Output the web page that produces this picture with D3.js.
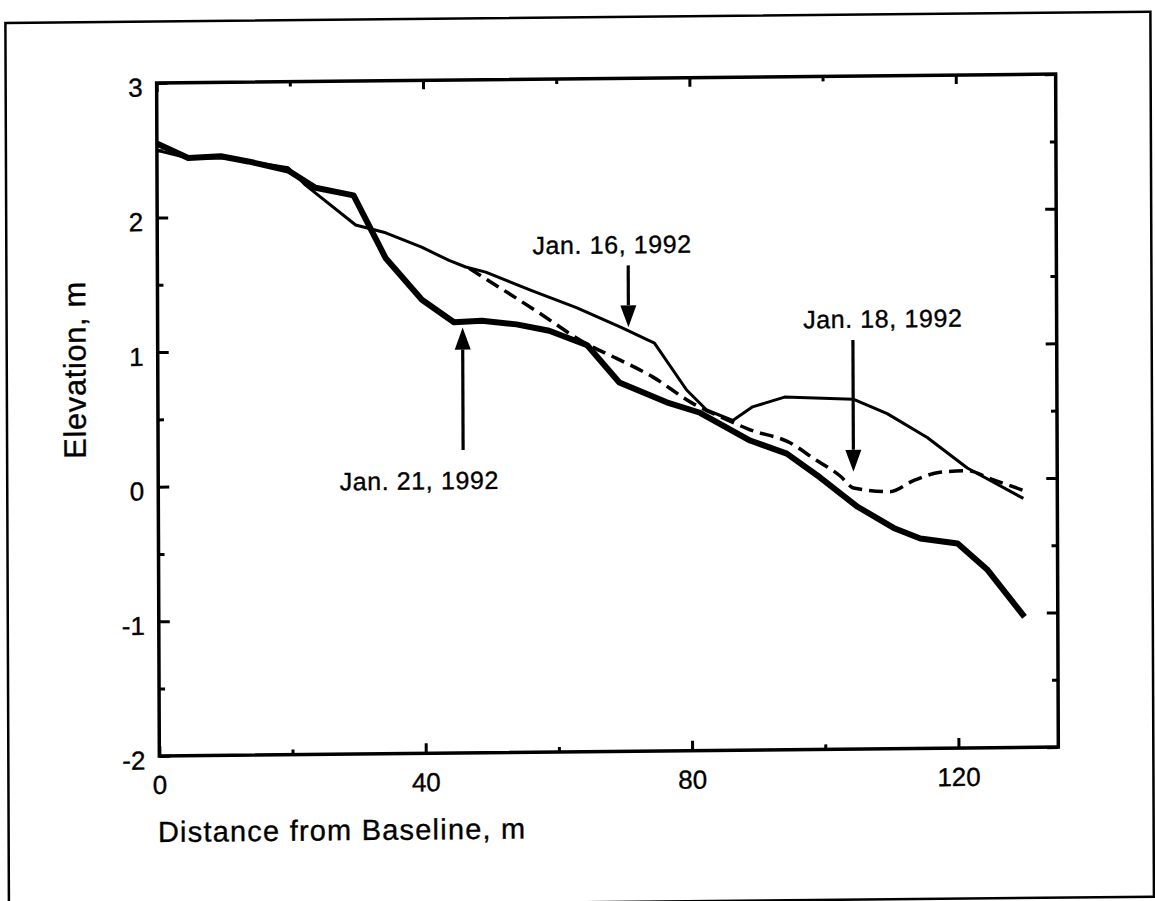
<!DOCTYPE html>
<html>
<head>
<meta charset="utf-8">
<script src="https://cdn.jsdelivr.net/npm/d3@7"></script>
<style>
  body { margin: 0; background: #fff; }
  svg text { font-family: "Liberation Sans", Arial, Helvetica, sans-serif; fill: #000; stroke: #000; stroke-width: 0.35px; }
</style>
</head>
<body>
<svg id="chart"></svg>
<script>
// beach profile, three surveys
var dist16 = [0, 4.7, 9.6, 13.7, 19.7, 22.3, 29.8, 34.3, 39.7, 43.8, 46.3, 49.3, 56.2, 62.9, 69.6, 74.6, 79.4, 82.4, 86.3, 89.3, 94.1, 104.4, 109.5, 115.5, 121.5, 129.9];
var elev16 = [2.50, 2.44, 2.44, 2.41, 2.36, 2.23, 1.93, 1.87, 1.76, 1.66, 1.61, 1.57, 1.43, 1.30, 1.15, 1.03, 0.68, 0.53, 0.45, 0.55, 0.62, 0.60, 0.49, 0.31, 0.08, -0.15];

var dist18 = [46.8, 56.8, 64.4, 68.9, 74.3, 80.3, 84.4, 88.9, 94.9, 98.5, 102.4, 104.4, 109.9, 113.4, 117.4, 121.5, 124.9, 129.9];
var elev18 = [1.60, 1.28, 1.03, 0.92, 0.78, 0.58, 0.48, 0.38, 0.28, 0.16, 0.03, -0.06, -0.09, -0.01, 0.05, 0.06, 0.00, -0.09];

var dist21 = [0, 4.7, 9.6, 13.7, 19.7, 23.8, 29.5, 34.3, 39.7, 44.5, 48.7, 53.9, 58.8, 64.5, 69.3, 76.4, 81.4, 88.9, 94.4, 99.4, 105, 110.4, 114.4, 120, 124.5, 130];
var elev21 = [2.55, 2.44, 2.45, 2.41, 2.34, 2.21, 2.15, 1.68, 1.37, 1.20, 1.21, 1.18, 1.13, 1.02, 0.74, 0.59, 0.51, 0.30, 0.20, 0.02, -0.20, -0.36, -0.44, -0.48, -0.68, -1.03];

var xMajor = [0, 40, 80, 120];
var xMinor = [20, 60, 100];
var yMajor = [-2, -1, 0, 1, 2, 3];
var yMinor = [-1.5, -0.5, 0.5, 1.5, 2.5];

var notes = ["Jan. 16, 1992", "Jan. 18, 1992", "Jan. 21, 1992"];
var noteX = [68.3, 108.9, 39.2];
var noteY = [1.70, 1.13, -0.04];
var arrowX = [70.7, 104.4, 45.8];
var arrowFrom = [1.61, 1.04, 0.25];
var arrowTip = [1.15, 0.06, 1.16];

var width = 1155,
    height = 901;

var svg = d3.select("#chart")
    .attr("width", width)
    .attr("height", height);

// the scanned page sits a little crooked
var g = svg.append("g")
    .attr("transform", "translate(608,419) matrix(1,-0.0098,0.004,1,0,0) translate(-608,-419)");

var x = d3.scaleLinear().domain([0, 135]).range([158, 1057]);
var y = d3.scaleLinear().domain([-2, 3]).range([751.5, 78.5]);

// page border
g.append("rect")
    .attr("x", 7).attr("y", 17)
    .attr("width", 1145).attr("height", 885)
    .attr("fill", "none")
    .attr("stroke", "#000")
    .attr("stroke-width", 2.5);

function plainNum(d) { return String(d); }   // keep a hyphen for the minus sign

function axisStyle(sel) {
    sel.select(".domain").remove();
    sel.selectAll(".tick line").attr("stroke", "#000").attr("stroke-width", 3);
    sel.selectAll("text").style("font-size", "26px");
}

// ticks point inwards on all four sides
g.append("g").attr("transform", "translate(0," + y(-2) + ")")
    .call(d3.axisBottom(x).tickValues(xMajor).tickSize(-10).tickPadding(19.5).tickFormat(plainNum))
    .call(axisStyle);
g.append("g").attr("transform", "translate(0," + y(-2) + ")")
    .call(d3.axisBottom(x).tickValues(xMinor).tickSize(-5).tickFormat(""))
    .call(axisStyle);
g.append("g").attr("transform", "translate(0," + y(3) + ")")
    .call(d3.axisTop(x).tickValues(xMajor.concat(xMinor)).tickSize(-9).tickFormat(""))
    .call(axisStyle)
    .selectAll(".tick line").attr("y2", function(d) { return xMajor.indexOf(d) >= 0 ? 9 : 5; });

g.append("g").attr("transform", "translate(" + x(0) + ",0)")
    .call(d3.axisLeft(y).tickValues(yMajor).tickSize(-11).tickPadding(14).tickFormat(plainNum))
    .call(axisStyle)
    .selectAll("text").attr("dy", "0.5em");
g.append("g").attr("transform", "translate(" + x(0) + ",0)")
    .call(d3.axisLeft(y).tickValues(yMinor).tickSize(-6).tickFormat(""))
    .call(axisStyle);
g.append("g").attr("transform", "translate(" + x(135) + ",0)")
    .call(d3.axisRight(y).tickValues(yMajor.concat(yMinor)).tickSize(-11).tickFormat(""))
    .call(axisStyle)
    .selectAll(".tick line").attr("x2", function(d) { return yMajor.indexOf(d) >= 0 ? -11 : -6; });

// plot box
g.append("rect")
    .attr("x", x(0)).attr("y", y(3))
    .attr("width", x(135) - x(0)).attr("height", y(-2) - y(3))
    .attr("fill", "none")
    .attr("stroke", "#000")
    .attr("stroke-width", 3.5);

// profiles
var straight = d3.line()
    .x(function(d) { return x(d[0]); })
    .y(function(d) { return y(d[1]); });
var smooth = d3.line()
    .curve(d3.curveMonotoneX)
    .x(function(d) { return x(d[0]); })
    .y(function(d) { return y(d[1]); });

g.append("path")
    .datum(d3.zip(dist18, elev18))
    .attr("d", smooth)
    .attr("fill", "none").attr("stroke", "#000")
    .attr("stroke-width", 3.5)
    .attr("stroke-dasharray", "14,7");

g.append("path")
    .datum(d3.zip(dist16, elev16))
    .attr("d", straight)
    .attr("fill", "none").attr("stroke", "#000")
    .attr("stroke-width", 3)
    .attr("stroke-linejoin", "round");

g.append("path")
    .datum(d3.zip(dist21, elev21))
    .attr("d", straight)
    .attr("fill", "none").attr("stroke", "#000")
    .attr("stroke-width", 6)
    .attr("stroke-linejoin", "round");

// labels with arrows
var notesG = g.append("g");
notes.forEach(function(label, i) {
    notesG.append("text")
        .attr("x", x(noteX[i]))
        .attr("y", y(noteY[i]))
        .attr("text-anchor", "middle")
        .style("font-size", "25px")
        .style("letter-spacing", "0.6px")
        .text(label);

    var tip = y(arrowTip[i]),
        dir = arrowTip[i] < arrowFrom[i] ? 1 : -1,   // 1 = pointing down
        head = 22,
        ax = x(arrowX[i]);

    notesG.append("line")
        .attr("x1", ax).attr("x2", ax)
        .attr("y1", y(arrowFrom[i]))
        .attr("y2", tip - dir * head)
        .attr("stroke", "#000")
        .attr("stroke-width", 3.2);

    notesG.append("path")
        .attr("d", "M" + ax + "," + tip +
                   "L" + (ax - 8) + "," + (tip - dir * head) +
                   "L" + (ax + 8) + "," + (tip - dir * head) + "Z")
        .attr("fill", "#000");
});

// axis titles
g.append("text")
    .attr("x", 156.3)
    .attr("y", 837.6)
    .style("font-size", "29px")
    .style("letter-spacing", "1.2px")
    .text("Distance from Baseline, m");

g.append("text")
    .attr("transform", "translate(75.2,364.8) rotate(-90)")
    .attr("text-anchor", "middle")
    .attr("dominant-baseline", "central")
    .style("font-size", "31px")
    .style("letter-spacing", "0.6px")
    .text("Elevation, m");
</script>
</body>
</html>
